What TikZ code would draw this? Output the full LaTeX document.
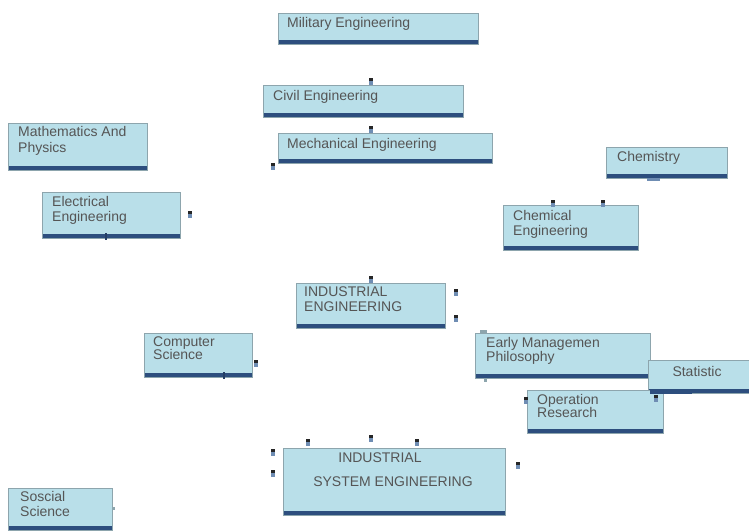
\documentclass[tikz,border=0pt]{standalone}
\usepackage{fontspec}
\setmainfont{Liberation Sans}
\definecolor{boxfill}{HTML}{B9DFE9}
\definecolor{boxedge}{HTML}{8DA5AD}
\definecolor{barc}{HTML}{2D4E7E}
\definecolor{txt}{HTML}{555555}
\definecolor{mkblue}{HTML}{6F8DB3}
\tikzset{
  box/.style={rectangle, draw=boxedge, line width=1.3pt, fill=boxfill,
    inner sep=0pt, anchor=north west,
    path picture={\fill[barc] (path picture bounding box.south west)
      rectangle ([yshift=4.5pt]path picture bounding box.south east);}},
  lbl/.style={inner sep=0pt, anchor=west, text=txt,
    font=\fontsize{14}{15}\selectfont, text height=9.5pt, text depth=2.5pt},
  clbl/.style={lbl, anchor=center},
  mk/.style={rectangle, inner sep=0pt, minimum width=4pt, minimum height=7pt,
    fill=mkblue,
    path picture={\fill[black!85] (path picture bounding box.north west)
      rectangle ([yshift=-3.5pt]path picture bounding box.north east);}},
  tick/.style={draw=barc!80!black, line width=1.2pt},
}
\begin{document}
\begin{tikzpicture}[x=1pt, y=-1pt]
\useasboundingbox (0,0) rectangle (749,530);

% --- boxes ---
\node[box, minimum width=200pt, minimum height=31pt] (mil) at (278,13) {};
\node[box, minimum width=200pt, minimum height=32pt] (civ) at (263,85) {};
\node[box, minimum width=214pt, minimum height=30pt] (mech) at (278,133) {};
\node[box, minimum width=139pt, minimum height=47pt] (math) at (8,123) {};
\node[box, minimum width=138pt, minimum height=46pt] (elec) at (42,192) {};
\node[box, minimum width=121pt, minimum height=31pt] (chem) at (606,147) {};
\node[box, minimum width=135pt, minimum height=45pt] (cheng) at (503,205) {};
\node[box, minimum width=149pt, minimum height=45pt] (ie) at (296,283) {};
\node[box, minimum width=108pt, minimum height=44pt] (cs) at (144,333) {};
\node[box, minimum width=175pt, minimum height=45pt] (emp) at (475,333) {};
\node[box, minimum width=110pt, minimum height=33pt] (stat) at (648,360) {};
\node[box, minimum width=136pt, minimum height=43pt] (opr) at (527,390) {};
\node[box, minimum width=222pt, minimum height=67pt] (ise) at (283,448) {};
\node[box, minimum width=104pt, minimum height=42pt] (soc) at (8,488) {};

% --- labels ---
\node[lbl] (mil-t) at (287,24) {Military Engineering};
\node[lbl] (civ-t) at (273,97) {Civil Engineering};
\node[lbl] (mech-t) at (287,145) {Mechanical Engineering};
\node[lbl] (math-t1) at (18,133) {Mathematics And};
\node[lbl] (math-t2) at (18,149) {Physics};
\node[lbl] (elec-t1) at (52,203) {Electrical};
\node[lbl] (elec-t2) at (52,218) {Engineering};
\node[lbl] (chem-t) at (617,158) {Chemistry};
\node[lbl] (cheng-t1) at (513,217) {Chemical};
\node[lbl] (cheng-t2) at (513,232) {Engineering};
\node[lbl] (ie-t1) at (304,293) {INDUSTRIAL};
\node[lbl] (ie-t2) at (304,308) {ENGINEERING};
\node[lbl] (cs-t1) at (153,343) {Computer};
\node[lbl] (cs-t2) at (153,356) {Science};
\node[lbl] (emp-t1) at (486,344) {Early Managemen};
\node[lbl] (emp-t2) at (486,358) {Philosophy};
\node[clbl] (stat-t) at (697,373) {Statistic};
\node[lbl] (opr-t1) at (537,401) {Operation};
\node[lbl] (opr-t2) at (537,414) {Research};
\node[clbl] (ise-t1) at (380,459) {INDUSTRIAL};
\node[clbl] (ise-t2) at (393,483) {SYSTEM ENGINEERING};
\node[lbl] (soc-t1) at (20,498) {Soscial};
\node[lbl] (soc-t2) at (20,513) {Science};

% --- connector end markers ---
\node[mk] (m1) at (371,81) {};
\node[mk] (m2) at (371,129) {};
\node[mk] (m3) at (273,166) {};
\node[mk] (m4) at (190,214) {};
\node[mk] (m5) at (553,203) {};
\node[mk] (m6) at (603,203) {};
\node[mk] (m7) at (371,279) {};
\node[mk] (m8) at (456,292) {};
\node[mk] (m9) at (456,318) {};
\node[mk] (m10) at (256,363) {};
\node[mk] (m11) at (526,400) {};
\node[mk] (m12) at (656,398) {};
\node[mk] (m13) at (273,452) {};
\node[mk] (m14) at (273,473) {};
\node[mk] (m15) at (308,442) {};
\node[mk] (m16) at (371,438) {};
\node[mk] (m17) at (417,442) {};
\node[mk] (m18) at (518,465) {};
\fill[boxedge] (480,330) rectangle (487,333);
\fill[boxedge] (484,378) rectangle (487,382);
\fill[boxedge] (112,507) rectangle (115,510);
\fill[mkblue] (647,178) rectangle (660,181);

% --- small ticks on box bottoms ---
\draw[tick] (106,233) -- (106,240);
\draw[tick] (224,372) -- (224,379);
\fill[barc] (650,390) rectangle (692,394);
\end{tikzpicture}
\end{document}
